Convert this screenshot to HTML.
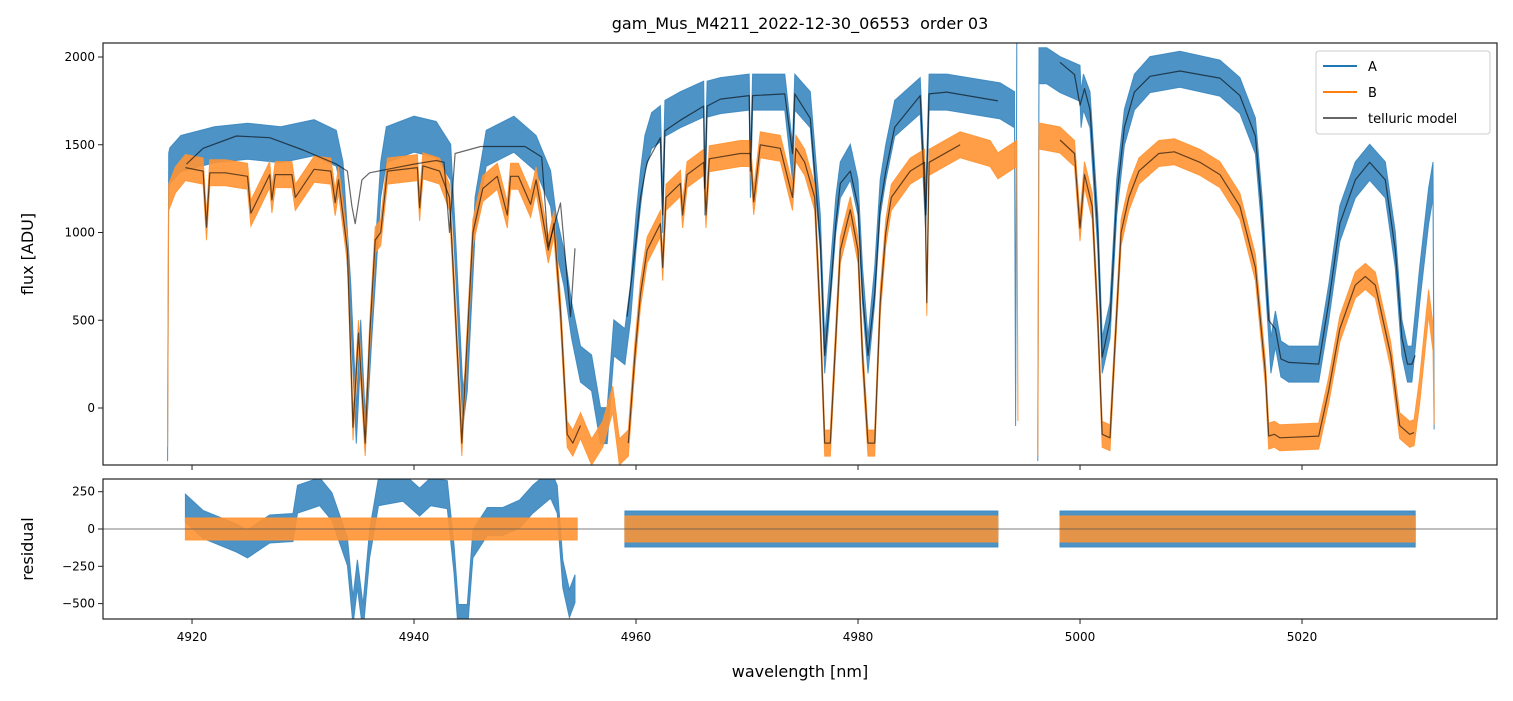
<!DOCTYPE html>
<html><head><meta charset="utf-8"><style>
body{margin:0;background:#fff;font-family:"Liberation Sans","DejaVu Sans",sans-serif}
svg text{font-family:"DejaVu Sans","Liberation Sans",sans-serif}
</style></head><body>
<svg id="c" width="1513" height="696" viewBox="0 0 1513 696">
<defs>
<clipPath id="cTop"><rect x="103" y="43" width="1394" height="422"/></clipPath>
<clipPath id="cRes"><rect x="103" y="479" width="1394" height="140"/></clipPath>
</defs>
<text x="800" y="29" text-anchor="middle" font-size="16">gam_Mus_M4211_2022-12-30_06553&#160; order 03</text>
<text transform="translate(33,254) rotate(-90)" text-anchor="middle" font-size="16">flux [ADU]</text>
<text transform="translate(33,549) rotate(-90)" text-anchor="middle" font-size="16">residual</text>
<text x="800" y="677" text-anchor="middle" font-size="16">wavelength [nm]</text>
<g id="gTop" clip-path="url(#cTop)"></g>
<g id="gRes" clip-path="url(#cRes)"></g>
<g id="gAx"></g>
<g>
<rect x="1316" y="51" width="174" height="83" rx="3" fill="#fff" fill-opacity="0.85" stroke="#ccc"/>
<line x1="1323" y1="66" x2="1357" y2="66" stroke="#1f77b4" stroke-width="2"/>
<text x="1368" y="71" font-size="13">A</text>
<line x1="1323" y1="92" x2="1357" y2="92" stroke="#ff7f0e" stroke-width="2"/>
<text x="1368" y="97" font-size="13">B</text>
<line x1="1323" y1="118" x2="1357" y2="118" stroke="#666" stroke-width="2"/>
<text x="1368" y="123" font-size="13">telluric model</text>
</g>
</svg>
<script>
// ---- data ----
const aWl1=[4917.8,4917.9,4918,4919,4922,4925,4928,4931,4933,4933.6,4934.3,4934.8,4935.2,4935.6,4936.2,4937,4937.5,4940,4942,4943.3,4943.8,4944.4,4944.8,4945.5,4946.5,4949,4951,4952.3,4952.8,4953.5,4954.2,4955,4956,4956.8,4957.4,4958,4959,4959.5,4960,4960.4,4960.8,4961.4,4962.2,4962.4,4962.6,4964,4966.1,4966.2,4966.4,4967.6,4970.2,4970.3,4970.5,4973.4,4974.1,4974.3,4975.7,4976.6,4977,4977.5,4978,4978.4,4979.3,4980,4980.4,4980.9,4981.5,4982,4982.5,4983.3,4985.6,4986.1,4986.4,4988,4992.8,4994.1,4994.2,4994.3];
const aFx1=[-200,1350,1380,1450,1500,1520,1500,1540,1480,1300,600,-100,400,-150,500,1300,1500,1560,1530,1400,800,0,200,1100,1480,1560,1450,1250,1000,800,500,250,200,-100,-100,400,350,600,1000,1250,1450,1580,1620,1100,1650,1700,1760,1200,1760,1780,1800,1300,1800,1800,1400,1800,1700,1000,300,700,1100,1300,1400,1200,700,300,700,1200,1400,1650,1780,1100,1800,1800,1750,1700,0,2080];
const aWl2=[4996.2,4996.3,4997,4998.2,5000,5000.1,5000.3,5000.9,5001.6,5002,5002.7,5003.3,5004,5004.9,5006.3,5009,5012.6,5014.4,5015.8,5016.4,5017,5017.2,5017.6,5018.1,5018.8,5021.5,5022.4,5023.4,5024.8,5026.1,5027.5,5028.4,5029,5029.5,5029.9,5030.6,5031.4,5031.8,5031.9];
const aFx2=[-200,1950,1950,1900,1850,1700,1800,1700,1000,300,500,1200,1600,1800,1900,1930,1880,1780,1550,1100,500,300,450,280,250,250,600,1050,1300,1400,1300,900,400,250,250,700,1150,1300,-20];
const bWl1=[4917.8,4917.9,4918.5,4919.4,4921,4921.3,4921.6,4923,4925,4925.3,4927,4927.2,4927.5,4929,4929.3,4931,4932.5,4932.9,4933.2,4934,4934.5,4935,4935.6,4936,4936.5,4937,4937.6,4940.3,4940.5,4940.8,4942.3,4943.2,4943.6,4944.3,4944.8,4945.3,4946.2,4947.5,4948.4,4948.7,4949.4,4950.5,4951,4952.1,4952.6,4953.2,4953.8,4954.3,4955,4956,4957,4957.9,4958.5,4959.3,4959.9,4960.4,4961,4962.2,4962.4,4962.7,4964,4964.2,4964.6,4966.1,4966.3,4966.6,4969.4,4970.3,4970.6,4971.2,4973,4974.1,4974.4,4975.2,4976.1,4976.6,4977,4977.5,4978,4978.4,4979.3,4980,4980.4,4980.9,4981.5,4982,4982.5,4983,4984.7,4986,4986.2,4986.4,4989.2,4991.9,4992.6,4994.3,4994.4];
const bFx1=[-150,1200,1300,1370,1350,1030,1340,1340,1320,1110,1330,1185,1330,1330,1200,1360,1350,1170,1300,900,-110,427,-200,400,957,1000,1350,1370,1140,1380,1350,1200,700,-200,400,1000,1250,1320,1100,1320,1320,1160,1300,900,1050,550,-150,-200,-100,-250,-150,50,-250,-200,300,650,900,1050,800,1200,1280,1100,1330,1400,1100,1420,1450,1450,1175,1500,1480,1200,1480,1400,1200,500,-200,-200,400,900,1130,900,300,-200,-200,600,1000,1200,1350,1400,600,1400,1500,1450,1380,1450,0];
const bWl2=[4996.2,4996.3,4998.2,4999.5,5000,5000.4,5001.1,5001.6,5002,5002.7,5003.1,5003.7,5004.4,5005.3,5007.1,5008.5,5010.8,5012.6,5014.4,5015.8,5016.7,5017,5017.5,5018,5021.5,5022.4,5023.4,5024.8,5025.7,5026.6,5028,5028.8,5029.7,5030.1,5030.6,5031.4,5031.8,5031.9];
const bFx2=[-200,1550,1527,1450,1025,1330,1150,500,-150,-170,300,1000,1200,1350,1450,1460,1400,1330,1150,800,200,-160,-150,-170,-160,100,450,700,750,700,300,-100,-150,-140,100,600,400,-20];
// telluric model segments
const mA1Wl=[4919.5,4921,4924,4927,4930,4933,4934,4934.4,4934.7,4935.3,4936,4940,4942,4942.7,4943.2,4943.7,4946,4950,4951.5,4952.1,4953.2,4954.1,4954.5];
const mA1Fx=[1390,1480,1550,1540,1470,1390,1350,1150,1050,1300,1340,1390,1410,1400,1000,1450,1490,1490,1430,920,1168,520,910];
const mA2Wl=[4959.2,4960,4960.4,4961,4962.2,4962.4,4962.6,4964,4966.1,4966.2,4966.4,4967.6,4970.2,4970.3,4970.5,4973.4,4974.1,4974.3,4975.7,4976.6,4977,4977.5,4978,4978.4,4979.3,4980,4980.4,4980.9,4981.5,4982,4982.5,4983.3,4985.6,4986.1,4986.4,4988,4992.6];
const mA2Fx=[520,950,1200,1400,1540,1100,1580,1640,1720,1250,1720,1760,1780,1350,1780,1790,1450,1790,1650,950,300,650,1050,1280,1350,1150,650,300,650,1150,1350,1600,1780,1100,1790,1800,1750];
const mA3Wl=[4998.2,4999.5,5000,5000.4,5000.9,5001.6,5002,5002.7,5003.3,5004,5004.9,5006.3,5009,5012.6,5014.4,5015.8,5016.4,5017,5017.6,5018.1,5018.8,5021.5,5022.4,5023.4,5024.8,5026.1,5027.5,5028.4,5029,5029.5,5029.9,5030.2];
const mA3Fx=[1970,1900,1725,1820,1700,1000,290,500,1200,1600,1800,1890,1920,1880,1780,1550,1100,500,450,280,260,250,600,1050,1300,1400,1300,900,400,250,250,300];
const mB1Wl=bWl1.slice(3,49), mB1Fx=bFx1.slice(3,49);
const mB2Wl=bWl1.slice(53,93), mB2Fx=bFx1.slice(53,93);
const mB3Wl=bWl2.slice(2,34), mB3Fx=bFx2.slice(2,34);
// residuals
const rAWl=[4919.4,4921,4924,4925,4927,4929.1,4929.5,4931.5,4932.6,4934,4934.5,4934.9,4935.4,4936,4936.8,4939,4940.5,4941.5,4943,4943.6,4944,4944.8,4945.3,4946.6,4948,4949.5,4950.7,4952.3,4952.9,4953.4,4954,4954.5];
const rAFx=[140,30,-60,-100,0,10,200,250,150,-150,-550,-300,-600,-100,250,280,180,250,230,-200,-600,-600,-100,50,50,100,200,300,200,-300,-500,-400];
const rBWl=[4919.4,4954.7];
const rBFx=[0,0];
const rSegWl=[[4959,4992.6],[4998.2,5030.2]];
const rSegFx=[[0,0],[0,0]];
const xTicks=[4920,4940,4960,4980,5000,5020];
const yTicks=[0,500,1000,1500,2000];
const rTicks=[250,0,-250,-500];

// ---- axes functions ----
const X=w=>103+(w-4911.98)*11.1;
const Y=v=>408-v*0.1755;
const YR=v=>529-v*0.1492;
const NS='http://www.w3.org/2000/svg';
function mk(tag,parent,attrs){const e=document.createElementNS(NS,tag);for(const k in attrs)e.setAttribute(k,attrs[k]);parent.appendChild(e);return e;}
const gTop=document.getElementById('gTop'),gRes=document.getElementById('gRes'),gAx=document.getElementById('gAx');

function band(parent,wl,fx,yf,sig,color,op,name){
  let up=[],dn=[];
  for(let i=0;i<wl.length;i++){up.push(X(wl[i]).toFixed(1)+','+(yf(fx[i])-sig).toFixed(1));dn.push(X(wl[i]).toFixed(1)+','+(yf(fx[i])+sig).toFixed(1));}
  const p=mk('polygon',parent,{points:up.concat(dn.reverse()).join(' '),fill:color,'fill-opacity':op,stroke:color,'stroke-width':1,'stroke-opacity':op});
  
  
}
function line(parent,wl,fx,yf,color,w,op,name){
  const pts=wl.map((v,i)=>X(v).toFixed(1)+','+yf(fx[i]).toFixed(1)).join(' ');
  const p=mk('polyline',parent,{points:pts,fill:'none',stroke:color,'stroke-width':w,'stroke-opacity':op,'stroke-linejoin':'round'});
  
  
}
const cA='#3a87c0',cB='#ff9433';
band(gTop,aWl1,aFx1,Y,18,cA,0.9,'series-a-segment-1');
band(gTop,aWl2,aFx2,Y,18,cA,0.9,'series-a-segment-2');
band(gTop,bWl1,bFx1,Y,13,cB,0.9,'series-b-segment-1');
band(gTop,bWl2,bFx2,Y,13,cB,0.9,'series-b-segment-2');
[[mA1Wl,mA1Fx],[mA2Wl,mA2Fx],[mA3Wl,mA3Fx],[mB1Wl,mB1Fx],[mB2Wl,mB2Fx],[mB3Wl,mB3Fx]].forEach((s,i)=>line(gTop,s[0],s[1],Y,'#000',1.2,0.6,'telluric-model-'+(i+1)));
// residuals
band(gRes,rAWl,rAFx,YR,14,cA,0.9,'residual-a-segment-1');
rSegWl.forEach((w,i)=>band(gRes,w,rSegFx[i],YR,18,cA,0.9,'residual-a-segment-'+(i+2)));
band(gRes,rBWl,rBFx,YR,11,cB,0.9,'residual-b-segment-1');
rSegWl.forEach((w,i)=>band(gRes,w,rSegFx[i],YR,13,cB,0.85,'residual-b-segment-'+(i+2)));
const z=mk('line',gRes,{x1:103,x2:1497,y1:YR(0),y2:YR(0),stroke:'#555','stroke-width':0.8});



// frames
[[43,465],[479,619]].forEach((b,i)=>{const r=mk('rect',gAx,{x:103,y:b[0],width:1394,height:b[1]-b[0],fill:'none',stroke:'#222','stroke-width':1.2});

});
xTicks.forEach(t=>{
  const x=X(t);
  mk('line',gAx,{x1:x,x2:x,y1:465,y2:470,stroke:'#222'});
  mk('line',gAx,{x1:x,x2:x,y1:619,y2:624,stroke:'#222'});
  const tx=mk('text',gAx,{x:x,y:641,'text-anchor':'middle','font-size':12});tx.textContent=t;
  
  
});
yTicks.forEach(t=>{
  const y=Y(t);
  mk('line',gAx,{x1:98,x2:103,y1:y,y2:y,stroke:'#222'});
  const tx=mk('text',gAx,{x:95,y:y+4,'text-anchor':'end','font-size':12});tx.textContent=t;
  
  
});
rTicks.forEach(t=>{
  const y=YR(t);
  mk('line',gAx,{x1:98,x2:103,y1:y,y2:y,stroke:'#222'});
  const tx=mk('text',gAx,{x:95,y:y+4,'text-anchor':'end','font-size':12});tx.textContent=(t<0?'\u2212'+(-t):t);
  
  
});
</script>
</body></html>
